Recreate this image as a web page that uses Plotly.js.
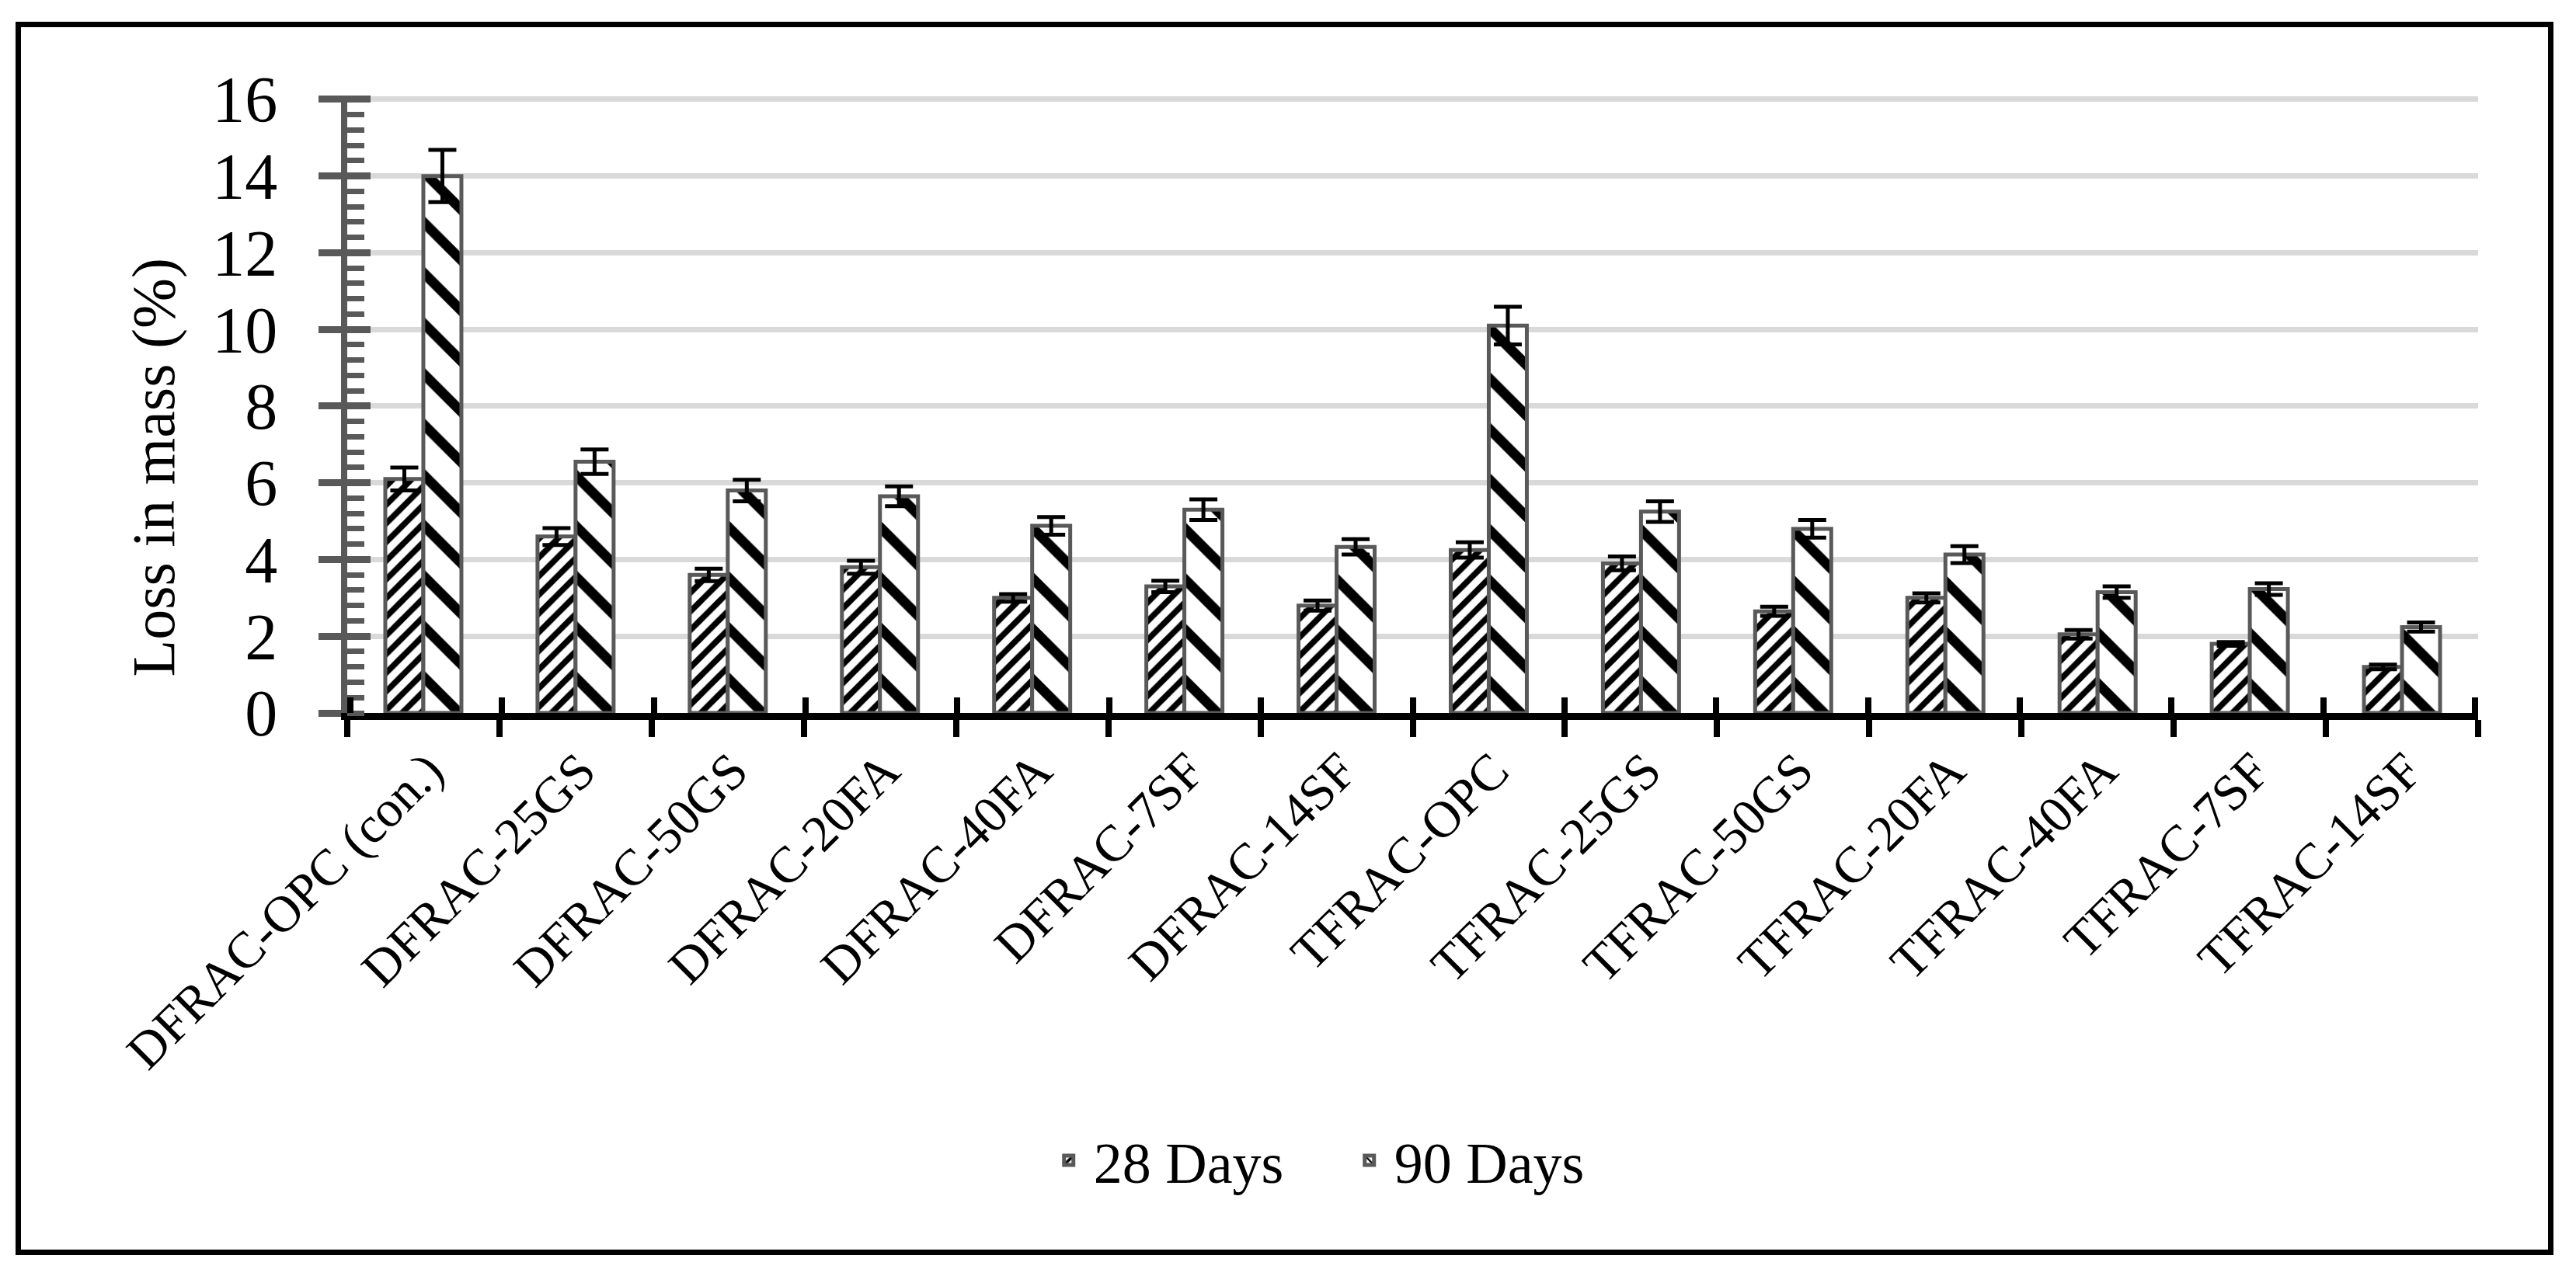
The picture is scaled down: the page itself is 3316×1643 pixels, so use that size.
<!DOCTYPE html>
<html>
<head>
<meta charset="utf-8">
<script src="https://cdn.plot.ly/plotly-3.0.1.min.js"></script>
<style>
  html, body { margin: 0; padding: 0; background: #ffffff; }
  #chart { position: absolute; left: 0; top: 0; width: 3316px; height: 1643px; }
  #frame { position: absolute; left: 20px; top: 28px; width: 3267px; height: 1588px;
           box-sizing: border-box; border: 7px solid #000; pointer-events: none; }
</style>
</head>
<body>
<div id="chart"></div>
<div id="frame"></div>
<script>
// ---- data ----
const categories = ["DFRAC-OPC (con.)", "DFRAC-25GS", "DFRAC-50GS", "DFRAC-20FA", "DFRAC-40FA",
  "DFRAC-7SF", "DFRAC-14SF", "TFRAC-OPC", "TFRAC-25GS", "TFRAC-50GS", "TFRAC-20FA",
  "TFRAC-40FA", "TFRAC-7SF", "TFRAC-14SF"];
const seriesNames = ["28 Days", "90 Days"];
const loss28 = [6.1, 4.6, 3.6, 3.8, 3.0, 3.3, 2.8, 4.25, 3.9, 2.65, 3.0, 2.05, 1.8, 1.2];
const err28  = [0.3, 0.22, 0.16, 0.17, 0.1, 0.15, 0.13, 0.2, 0.18, 0.12, 0.12, 0.11, 0.05, 0.06];
const loss90 = [14.0, 6.55, 5.8, 5.65, 4.88, 5.3, 4.33, 10.1, 5.25, 4.8, 4.13, 3.15, 3.23, 2.24];
const err90  = [0.68, 0.32, 0.28, 0.26, 0.23, 0.27, 0.2, 0.49, 0.27, 0.23, 0.22, 0.15, 0.15, 0.12];
const yTitle = "Loss in mass (%)";
const yMax = 16;

const FONT = "Liberation Serif, Times New Roman, serif";
const OUTLINE = "#595959";
const GRID = "#d9d9d9";

const traces = [
  {
    type: "bar", name: seriesNames[0], x: categories, y: loss28,
    marker: { color: "#000", line: { color: OUTLINE, width: 5 },
      pattern: { shape: "/", fgcolor: "#000", bgcolor: "#fff", size: 17, solidity: 0.45, fillmode: "replace" } },
    error_y: { type: "data", array: err28, visible: true, color: "#000", thickness: 5, width: 18 }
  },
  {
    type: "bar", name: seriesNames[1], x: categories, y: loss90,
    marker: { color: "#000", line: { color: OUTLINE, width: 5 },
      pattern: { shape: "\\", fgcolor: "#000", bgcolor: "#fff", size: 46, solidity: 0.28, fillmode: "replace" } },
    error_y: { type: "data", array: err90, visible: true, color: "#000", thickness: 5, width: 18 }
  },
  // empty helper trace so the overlay axes (inner halves of the crossing ticks) get drawn
  { type: "scatter", x: [], y: [], xaxis: "x2", yaxis: "y2", showlegend: false, hoverinfo: "skip" }
];

const yRange = [0, yMax + 0.1];

const layout = {
  width: 3316, height: 1643,
  paper_bgcolor: "rgba(0,0,0,0)", plot_bgcolor: "rgba(0,0,0,0)",
  margin: { l: 447, r: 126, t: 123, b: 725, pad: 0 },
  font: { family: FONT, color: "#000", size: 72 },
  barmode: "group", bargap: 0.5, bargroupgap: 0,
  showlegend: true,
  legend: { orientation: "h", x: 0.468, xanchor: "center", y: -0.725, yanchor: "middle",
            font: { family: FONT, size: 74, color: "#000" }, itemwidth: 54,
            entrywidth: 318, entrywidthmode: "pixels", bgcolor: "rgba(0,0,0,0)" },
  xaxis: {
    type: "category", range: [-0.5, 13.5], fixedrange: true,
    showline: true, linecolor: "#000", linewidth: 9,
    ticks: "outside", tickson: "boundaries", ticklen: 22, tickwidth: 8, tickcolor: "#000",
    tickangle: -45, tickfont: { family: FONT, size: 66, color: "#000" }, ticklabelshift: 6,
    showgrid: false, zeroline: false, automargin: false
  },
  xaxis2: {
    overlaying: "x", anchor: "y2", side: "bottom", type: "linear", range: [-0.52, 13.52], fixedrange: true,
    tick0: -0.5, dtick: 1, ticks: "inside", ticklen: 20, tickwidth: 8, tickcolor: "#000",
    showticklabels: false, showline: false, showgrid: false, zeroline: false
  },
  yaxis: {
    range: yRange, dtick: 2, tick0: 0, fixedrange: true,
    showline: true, linecolor: OUTLINE, linewidth: 8,
    ticks: "outside", ticklen: 29, tickwidth: 9, tickcolor: OUTLINE,
    tickfont: { family: FONT, size: 84, color: "#000" }, ticklabelstandoff: 36,
    showgrid: true, gridcolor: GRID, gridwidth: 7, zeroline: false,
    minor: { dtick: 0.4, ticks: "inside", ticklen: 22, tickwidth: 7, tickcolor: OUTLINE, showgrid: false },
    automargin: false
  },
  yaxis2: {
    overlaying: "y", anchor: "x2", side: "left", range: yRange, dtick: 2, tick0: 0, fixedrange: true,
    ticks: "inside", ticklen: 30, tickwidth: 9, tickcolor: OUTLINE,
    showticklabels: false, showline: false, showgrid: false, zeroline: false
  },
  annotations: [{
    text: yTitle, textangle: -90, showarrow: false,
    xref: "paper", yref: "paper", x: -0.0911, y: 0.397, xanchor: "center", yanchor: "middle",
    font: { family: FONT, size: 78, color: "#000" }
  }]
};

Plotly.newPlot("chart", traces, layout, { staticPlot: true, displayModeBar: false });
</script>
</body>
</html>
